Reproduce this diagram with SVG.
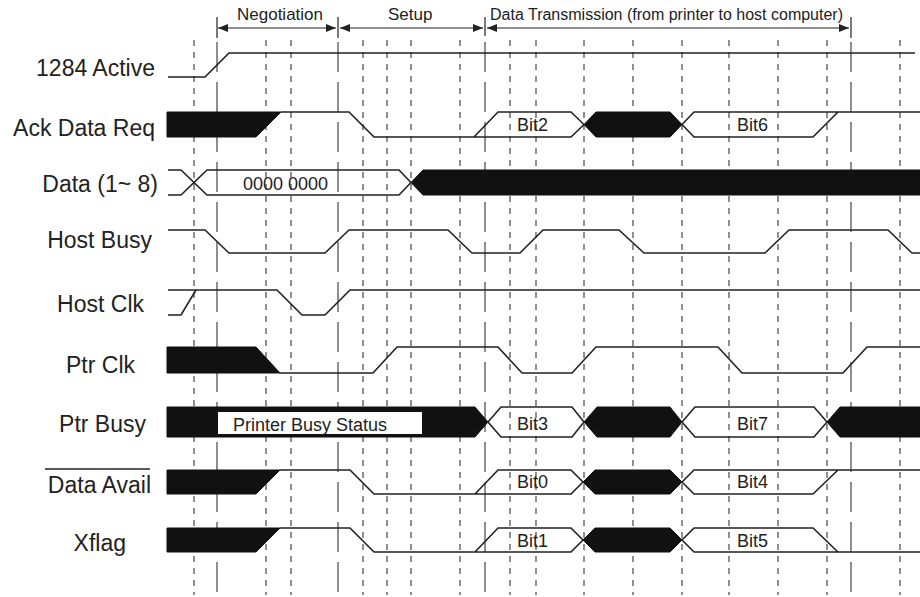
<svg xmlns="http://www.w3.org/2000/svg" width="920" height="597" viewBox="0 0 920 597">
<defs>
<marker id="ah" viewBox="0 0 10 8" refX="10" refY="4" markerWidth="10" markerHeight="8" markerUnits="userSpaceOnUse" orient="auto-start-reverse"><path d="M0,0 L10,4 L0,8 z" fill="#222"/></marker>
</defs>
<style>
.sig{fill:none;stroke:#222;stroke-width:1.6;stroke-linejoin:miter}
.blk{fill:#111;stroke:#111;stroke-width:1}
.lbl{font-family:"Liberation Sans",Arial,sans-serif;font-size:23px;fill:#222;text-anchor:end}
.bit{font-family:"Liberation Sans",Arial,sans-serif;font-size:18px;fill:#222}
.hdr{font-family:"Liberation Sans",Arial,sans-serif;font-size:16.5px;fill:#222}
.sd{stroke:#333;stroke-width:1.1;stroke-dasharray:6 6}
.ld{stroke:#333;stroke-width:1.1;stroke-dasharray:30 10}
.tk{stroke:#222;stroke-width:1.2}
.ar{stroke:#222;stroke-width:1.2;marker-start:url(#ah);marker-end:url(#ah)}
</style>
<rect width="920" height="597" fill="#fff"/>
<g id="connectors">
<g id="grid">
<line class="sd" x1="194" y1="40" x2="194" y2="595"/>
<line class="sd" x1="266" y1="40" x2="266" y2="595"/>
<line class="sd" x1="291" y1="40" x2="291" y2="595"/>
<line class="sd" x1="363" y1="40" x2="363" y2="595"/>
<line class="sd" x1="387" y1="40" x2="387" y2="595"/>
<line class="sd" x1="411" y1="40" x2="411" y2="595"/>
<line class="sd" x1="460" y1="40" x2="460" y2="595"/>
<line class="sd" x1="510" y1="40" x2="510" y2="595"/>
<line class="sd" x1="536" y1="40" x2="536" y2="595"/>
<line class="sd" x1="584" y1="40" x2="584" y2="595"/>
<line class="sd" x1="633" y1="40" x2="633" y2="595"/>
<line class="sd" x1="682" y1="40" x2="682" y2="595"/>
<line class="sd" x1="729" y1="40" x2="729" y2="595"/>
<line class="sd" x1="778" y1="40" x2="778" y2="595"/>
<line class="sd" x1="827" y1="40" x2="827" y2="595"/>
<line class="sd" x1="900" y1="40" x2="900" y2="595"/>
<line class="ld" x1="217" y1="42" x2="217" y2="595"/>
<line class="ld" x1="338" y1="42" x2="338" y2="595"/>
<line class="ld" x1="485" y1="42" x2="485" y2="595"/>
<line class="ld" x1="851" y1="42" x2="851" y2="595"/>
</g>
<g id="phases">
<line class="tk" x1="217" y1="17" x2="217" y2="38"/>
<line class="tk" x1="338" y1="17" x2="338" y2="38"/>
<line class="tk" x1="485" y1="17" x2="485" y2="36"/>
<line class="tk" x1="851" y1="17" x2="851" y2="38"/>
<line class="ar" x1="218" y1="28" x2="336" y2="28"/>
<line class="ar" x1="340" y1="28" x2="483" y2="28"/>
<line class="ar" x1="487" y1="28" x2="849" y2="28"/>
<text class="hdr" x="237" y="20" style="font-size:17px">Negotiation</text>
<text class="hdr" x="388" y="20" style="font-size:17px">Setup</text>
<text class="hdr" x="490" y="20" style="font-size:16px">Data Transmission (from printer to host computer)</text>
</g>
</g>
<g id="sig-1284active">
<text class="lbl" x="155" y="76">1284 Active</text>
<path class="sig" d="M168,77 H205 L229,53 H915"/>
</g>
<g id="sig-ackdatareq">
<text class="lbl" x="155" y="136">Ack Data Req</text>
<polygon class="blk" points="167,112 281,112 256,137 167,137"/>
<path class="sig" d="M281,112 H349 L374,137 H571 L584,124.5 M474,137 L498,112 H571 L584,124.5"/>
<polygon class="blk" points="584,124.5 596,112 670,112 682,124.5 670,137 596,137"/>
<path class="sig" d="M682,124.5 L694,112 H920 M682,124.5 L694,137 H813 L838,112"/>
<text class="bit" x="517" y="131">Bit2</text>
<text class="bit" x="737" y="131">Bit6</text>
</g>
<g id="sig-data">
<text class="lbl" x="158" y="192">Data (1~ 8)</text>
<path class="sig" d="M168,170 H181 L207,195 H399 L411,182.5 M168,195 H181 L207,170 H399 L411,182.5"/>
<polygon class="blk" points="411,182.5 423,170 920,170 920,195 423,195"/>
<text class="bit" x="243" y="190">0000 0000</text>
</g>
<g id="sig-hostbusy">
<text class="lbl" x="152" y="248">Host Busy</text>
<path class="sig" d="M168,230 H205 L229,253 H325 L349,230 H448 L472,253 H520 L543,230 H619 L644,253 H765 L789,230 H888 L912,253 H920"/>
</g>
<g id="sig-hostclk">
<text class="lbl" x="144" y="312">Host Clk</text>
<path class="sig" d="M168,290 H277 L302,315 H325 L350,290 H920 M168,315 H181 L196,290"/>
</g>
<g id="sig-ptrclk">
<text class="lbl" x="135" y="373">Ptr Clk</text>
<polygon class="blk" points="167,347 256,347 280,373 167,373"/>
<path class="sig" d="M280,373 H373 L397,347 H498 L522,373 H572 L596,347 H718 L742,373 H843 L867,347 H920"/>
</g>
<g id="sig-ptrbusy">
<text class="lbl" x="146" y="432">Ptr Busy</text>
<polygon class="blk" points="167,407 475,407 488,422 475,437 167,437"/>
<rect x="218" y="412" width="204" height="22" fill="#fff"/>
<text class="bit" x="233" y="431">Printer Busy Status</text>
<path class="sig" d="M488,422 L501,407 H572 L584,422 L572,437 H501 Z"/>
<polygon class="blk" points="584,422 597,407 670,407 682,422 670,437 597,437"/>
<path class="sig" d="M682,422 L695,407 H814 L827,422 L814,437 H695 Z"/>
<polygon class="blk" points="827,422 840,407 920,407 920,437 840,437"/>
<text class="bit" x="517" y="430">Bit3</text>
<text class="bit" x="737" y="430">Bit7</text>
</g>
<g id="sig-dataavail">
<text class="lbl" x="151" y="493">Data Avail</text>
<line class="sig" x1="45" y1="469" x2="150" y2="469"/>
<polygon class="blk" points="167,470 280,470 256,494 167,494"/>
<path class="sig" d="M280,470 H350 L374,494 H571 L583,482 M475,494 L498,470 H571 L583,482"/>
<polygon class="blk" points="583,482 595,470 670,470 682,482 670,494 595,494"/>
<path class="sig" d="M682,482 L694,470 H920 M682,482 L694,494 H813 L838,470"/>
<text class="bit" x="517" y="488">Bit0</text>
<text class="bit" x="737" y="488">Bit4</text>
</g>
<g id="sig-xflag">
<text class="lbl" x="126" y="551">Xflag</text>
<polygon class="blk" points="167,528 280,528 256,552 167,552"/>
<path class="sig" d="M280,528 H350 L374,552 H571 L583,540 M475,552 L498,528 H571 L583,540"/>
<polygon class="blk" points="583,540 595,528 670,528 682,540 670,552 595,552"/>
<path class="sig" d="M682,540 L694,528 H813 L838,552 M682,540 L694,552 H920"/>
<text class="bit" x="517" y="547">Bit1</text>
<text class="bit" x="737" y="547">Bit5</text>
</g>
</svg>
